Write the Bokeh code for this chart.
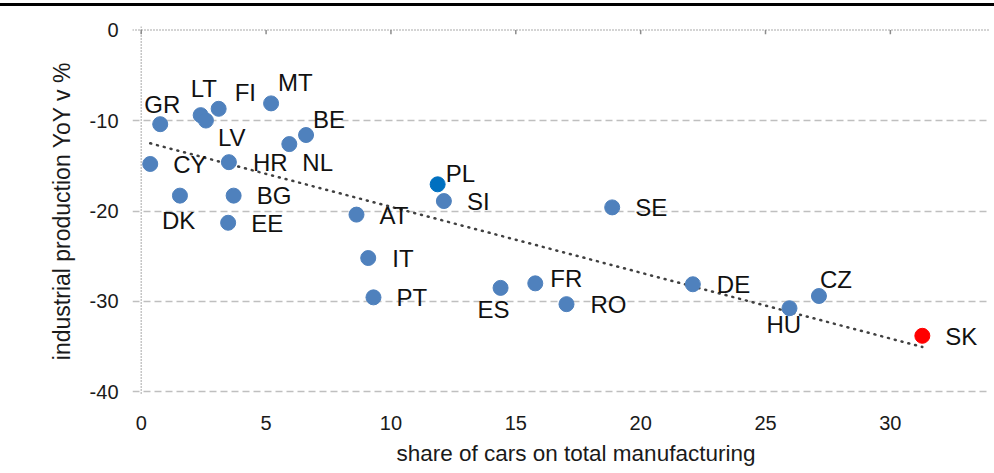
import numpy as np
from bokeh.plotting import figure
from bokeh.models import ColumnDataSource, FixedTicker, Span, Div, Title
from bokeh.layouts import column
from bokeh.core.properties import value
from bokeh.embed import file_html
from bokeh.resources import INLINE

# ---------------- data ----------------
countries = ["GR", "LT", "LV", "FI", "MT", "BE", "HR", "NL", "CY", "DK", "BG", "EE", "AT",
             "IT", "PT", "PL", "SI", "SE", "ES", "FR", "RO", "DE", "HU", "CZ", "SK"]
car_share = [0.76, 2.38, 2.59, 3.10, 5.20, 6.60, 3.51, 5.93, 0.36, 1.55, 3.70, 3.48, 8.62,
             9.09, 9.30, 11.87, 12.12, 18.86, 14.39, 15.78, 17.03, 22.09, 25.96, 27.14, 31.28]
ip_yoy = [-10.4, -9.4, -10.0, -8.7, -8.1, -11.6, -14.6, -12.6, -14.8, -18.3, -18.3, -21.3, -20.4,
          -25.2, -29.55, -17.05, -18.9, -19.6, -28.5, -28.0, -30.3, -28.1, -30.75, -29.4, -33.8]
x_ticks = [0, 5, 10, 15, 20, 25, 30]
y_ticks = [-40, -30, -20, -10, 0]
x_title = "share of cars on total manufacturing"
y_title = "industrial production YoY v %"

# ---------------- styling (label placement in screen pixels) ----------------
label_dx = [-16, -10, 12, 16, 7, 7, 24, 13, 23, -18, 23, 23, 23,
            24, 23, 8, 23, 23, -23, 15, 24, 24, -23, 1, 23]
label_dy = [-20, -27, 17, -16, -21, -16, 0, 18, 1, 25, 0, 1, 1,
            0, 0, -11, 0, 0, 22, -5, 0, 0, 16, -17, 1]
BLUE = "#4F81BD"
point_colors = [BLUE] * len(countries)
point_colors[countries.index("PL")] = "#0070C0"
point_colors[countries.index("SK")] = "#FF0000"

FONT = "Liberation Sans"
TXT = "#1a1a1a"

p = figure(width=992, height=466, x_range=(-0.35, 34.01), y_range=(-40.4, 0.4),
           output_backend="svg", toolbar_location=None,
           min_border_left=132, min_border_right=2, min_border_top=20, min_border_bottom=77)
p.outline_line_color = None
p.background_fill_color = "white"
p.border_fill_color = "white"

# axes
p.xaxis.ticker = FixedTicker(ticks=x_ticks)
p.yaxis.ticker = FixedTicker(ticks=y_ticks)
p.xaxis.major_label_overrides = {t: str(t) for t in x_ticks}
p.yaxis.major_label_overrides = {t: str(t) for t in y_ticks}
for ax in (p.xaxis[0], p.yaxis[0]):
    ax.axis_line_color = None
    ax.major_tick_line_color = None
    ax.minor_tick_line_color = None
    ax.major_tick_out = 0
    ax.major_tick_in = 0
    ax.major_label_text_font = FONT
    ax.major_label_text_font_size = "20px"
    ax.major_label_text_color = TXT
    ax.axis_label_text_font = FONT
    ax.axis_label_text_font_size = "23px"
    ax.axis_label_text_font_style = "normal"
    ax.axis_label_text_color = TXT
p.yaxis.axis_label = y_title
p.xaxis.major_label_standoff = 20
p.yaxis.major_label_standoff = 14
p.yaxis.axis_label_standoff = 12

# x title below, left-anchored like the original
p.add_layout(Title(text=x_title, align="left", offset=264, standoff=13,
                   text_font=FONT, text_font_size="22.5px", text_font_style="normal",
                   text_color=TXT), "below")

# grid
p.xgrid.grid_line_color = None
p.ygrid.ticker = FixedTicker(ticks=[t for t in y_ticks if t != 0])
p.ygrid.grid_line_color = "#BFBFBF"
p.ygrid.grid_line_width = 1.5
p.ygrid.grid_line_dash = "7 4"

# dotted axis lines at 0
p.add_layout(Span(location=0, dimension="width", line_color="#8C8C8C",
                  line_width=1.5, line_dash="1 2"))
p.add_layout(Span(location=0, dimension="height", line_color="#8C8C8C",
                  line_width=1.5, line_dash="1 2"))
# small tick marks on the zero line
p.segment(x0=x_ticks, y0=[0] * len(x_ticks), x1=x_ticks, y1=[-0.45] * len(x_ticks),
          line_color="#8C8C8C", line_width=1.5)

# trend line (least squares)
xs = np.array(car_share)
ys = np.array(ip_yoy)
slope, intercept = np.polyfit(xs, ys, 1)
tx = [xs.min(), xs.max()]
ty = [slope * v + intercept for v in tx]
p.line(tx, ty, line_color="#404040", line_width=2.5, line_dash="1 6", line_cap="round")

src = ColumnDataSource(dict(x=car_share, y=ip_yoy, label=countries,
                            dx=label_dx, dy=label_dy, color=point_colors))
p.scatter("x", "y", source=src, size=15, fill_color="color", line_color="color")
p.text("x", "y", text="label", source=src, x_offset="dx", y_offset="dy",
       text_font=value(FONT), text_font_size="24px", text_baseline="middle",
       text_align="left", text_color="#111111")

bar = Div(text="", width=994, height=3, margin=(3, 0, 0, 0),
          styles={"background-color": "#000000"})
layout = column(bar, p)

open("out.html", "w").write(file_html(layout, INLINE))
